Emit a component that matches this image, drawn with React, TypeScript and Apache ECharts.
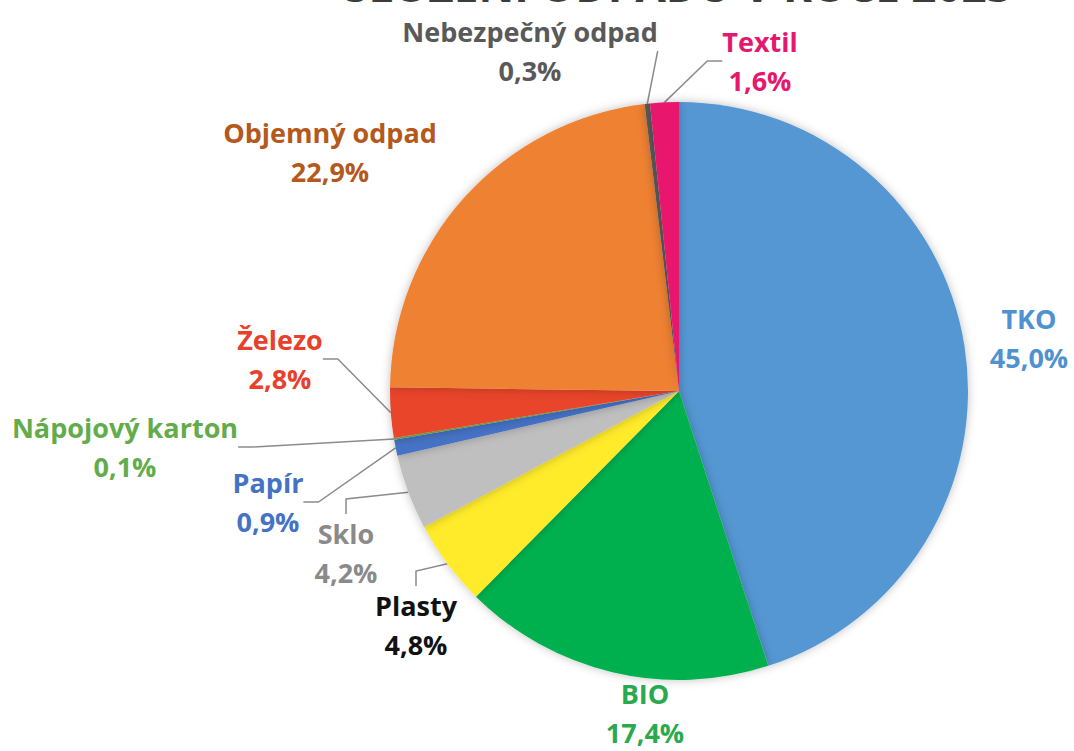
import React, { useEffect, useRef } from "react";
import * as echarts from "echarts";

const categories = [
  "TKO",
  "BIO",
  "Plasty",
  "Sklo",
  "Papír",
  "Nápojový karton",
  "Železo",
  "Objemný odpad",
  "Nebezpečný odpad",
  "Textil",
];
const values = [45.0, 17.4, 4.8, 4.2, 0.9, 0.1, 2.8, 22.9, 0.3, 1.6];
const sliceColors = [
  "#5597d3",
  "#00b050",
  "#ffeb2a",
  "#bfbfbf",
  "#4472c4",
  "#70ad47",
  "#e8452a",
  "#ef8132",
  "#5a5a5a",
  "#e8186d",
];
const labelColors = [
  "#4f92d0",
  "#2aaa4e",
  "#111111",
  "#8a8a8a",
  "#4472c4",
  "#63ac4c",
  "#e8402a",
  "#b4581c",
  "#595959",
  "#e5186d",
];
const showLines = [false, false, true, true, true, true, true, false, true, true];
const labelPositions: [number, number][] = [
  [1029, 338],
  [645, 713],
  [416, 625],
  [346, 553],
  [268, 502],
  [125, 447],
  [280, 359],
  [330, 152],
  [530, 51],
  [760, 61],
];
const titleText = "SLOŽENÍ ODPADU V ROCE 2023";

export default function App() {
  const ref = useRef<HTMLDivElement>(null);
  useEffect(() => {
    if (!ref.current) return;
    const chart = echarts.init(ref.current, null, { renderer: "svg" });
    chart.setOption({
      animation: false,
      backgroundColor: "#ffffff",
      graphic: [
        {
          type: "text",
          x: 678,
          y: 7,
          style: {
            text: titleText,
            fill: "#3c3c3c",
            font: "bold 44px 'Open Sans'",
            textAlign: "center",
            textVerticalAlign: "bottom",
          },
        },
      ],
      series: [
        {
          type: "pie",
          center: [679, 391],
          radius: [0, 289],
          startAngle: 90,
          clockwise: true,
          data: categories.map((name, i) => ({
            name,
            value: values[i],
            itemStyle: { color: sliceColors[i] },
            label: { color: labelColors[i] },
            labelLine: { show: showLines[i] },
          })),
          itemStyle: {
            borderWidth: 0,
            shadowBlur: 10,
            shadowColor: "rgba(0,0,0,0.25)",
          },
          label: {
            show: true,
            position: "outside",
            overflow: "none",
            formatter: (p: any) =>
              `${p.name}\n${Number(p.value).toFixed(1).replace(".", ",")}%`,
            fontFamily: "Open Sans",
            fontWeight: "bold",
            fontSize: 27,
            lineHeight: 39,
            align: "center",
          },
          labelLine: {
            show: true,
            length: 15,
            length2: 15,
            lineStyle: { color: "#8c8c8c", width: 1.5 },
          },
          labelLayout: (params: any) => {
            const pos = labelPositions[params.dataIndex];
            return {
              x: pos[0],
              y: pos[1],
              align: "center",
              verticalAlign: "middle",
            };
          },
        },
      ],
    });
    return () => chart.dispose();
  }, []);
  return (
    <div
      ref={ref}
      style={{ position: "fixed", left: 0, top: 0, width: 1074, height: 751 }}
    />
  );
}
